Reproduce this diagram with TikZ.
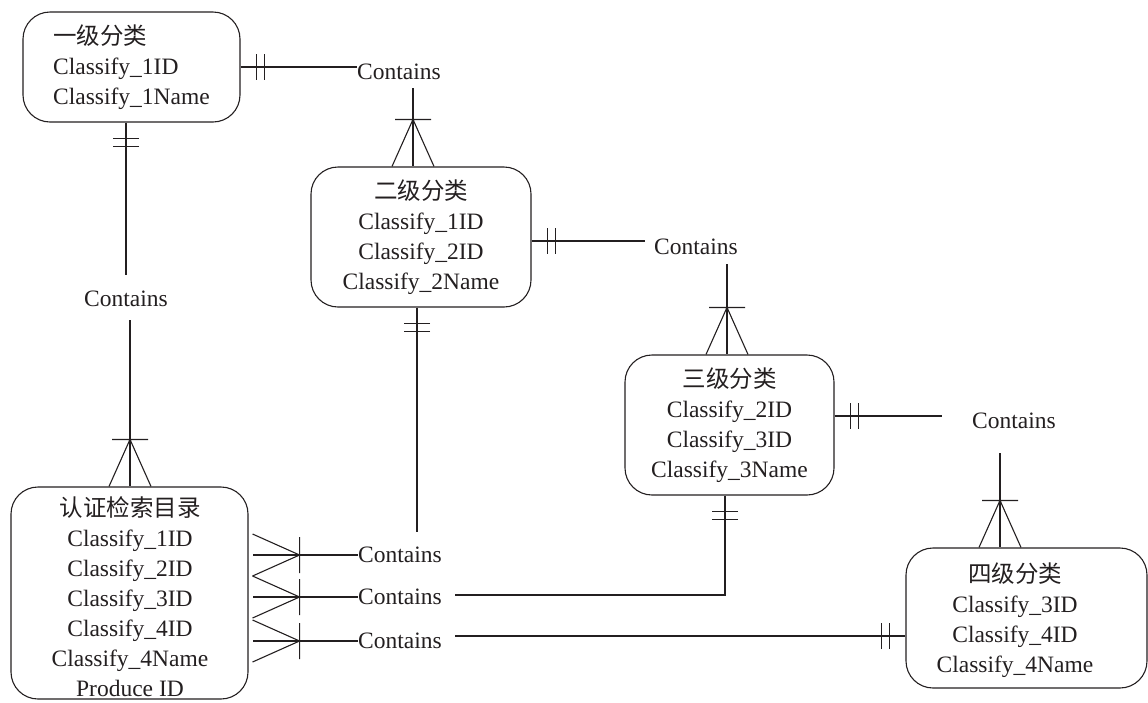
\documentclass[tikz,border=0pt]{standalone}
\usepackage{fontspec}
\setmainfont{Liberation Serif}
\newfontfamily\cjk{Noto Sans CJK SC}
\usetikzlibrary{calc}
\definecolor{ink}{HTML}{231F20}

\tikzset{
  link/.style={draw=ink, line width=1.1pt},
  ent/.style={draw=ink, line width=1.1pt, rounded corners=27pt, inner sep=0pt},
  txt/.style={text=ink, font=\fontsize{23.5}{30}\selectfont, inner sep=0pt, align=center},
  rel/.style={text=ink, font=\fontsize{23.5}{30}\selectfont, inner sep=0pt},
  % mandatory-one marker: two bars across the line
  pics/onebar/.style={code={
    \draw[link] (16,-13) -- (16,13) (24,-13) -- (24,13);}},
  % one-or-many marker: crow's foot with a bar
  pics/many/.style={code={
    \draw[link] (0,-21) -- (47,0) -- (0,21) (47,-18) -- (47,18);}},
}

\begin{document}
\begin{tikzpicture}[x=1pt, y=-1pt]
\useasboundingbox (0,0) rectangle (1148,702);
\clip (0,0) rectangle (1148,702);

% entities
\node[ent, txt, align=left, minimum width=217pt, minimum height=110pt] (e1) at (131.5,67)
  {{\cjk 一级分类}\\Classify\_1ID\\Classify\_1Name};
\node[ent, txt, minimum width=220pt, minimum height=140pt] (e2) at (421,237)
  {{\cjk 二级分类}\\Classify\_1ID\\Classify\_2ID\\Classify\_2Name};
\node[ent, txt, minimum width=209pt, minimum height=140pt] (e3) at (729.5,425)
  {{\cjk 三级分类}\\Classify\_2ID\\Classify\_3ID\\Classify\_3Name};
\node[ent, minimum width=241pt, minimum height=140pt] (e4) at (1026.5,618) {};
\node[txt] (e4t) at (1015,620)
  {{\cjk 四级分类}\\Classify\_3ID\\Classify\_4ID\\Classify\_4Name};
\node[ent, minimum width=237pt, minimum height=212pt] (e5) at (129.5,593) {};
\node[txt] (e5t) at (130,596.5)
  {{\cjk 认证检索目录}\\Classify\_1ID\\Classify\_2ID\\Classify\_3ID\\Classify\_4ID\\Classify\_4Name\\Produce ID};

% relationships
\node[rel] (c1) at (399,72) {Contains};
\node[rel] (c2) at (696,247) {Contains};
\node[rel] (c3) at (1014,421) {Contains};
\node[rel] (c4) at (126,299) {Contains};
\node[rel] (c5) at (400,555) {Contains};
\node[rel] (c6) at (400,597) {Contains};
\node[rel] (c7) at (400,641) {Contains};

% level 1 -> level 2
\draw[link] (e1.east) -- (e1.east -| c1.west);
\pic at (e1.east) {onebar};
\coordinate (c1s) at ([xshift=14pt,yshift=-8pt]c1.south);
\draw[link] (c1s) -- (c1s |- e2.north);
\pic[rotate=90] at (c1s |- e2.north) {many};

% level 2 -> level 3
\coordinate (e2r) at ([yshift=-4pt]e2.east);
\coordinate (c2w) at ([xshift=-9pt]c2.west);
\draw[link] (e2r) -- (e2r -| c2w);
\pic at (e2r) {onebar};
\coordinate (c2s) at ([xshift=31pt,yshift=-9pt]c2.south);
\draw[link] (c2s) -- (c2s |- e3.north);
\pic[rotate=90] at (c2s |- e3.north) {many};

% level 3 -> level 4
\coordinate (e3r) at ([yshift=9pt]e3.east);
\coordinate (c3w) at ([xshift=-30pt]c3.west);
\draw[link] (e3r) -- (e3r -| c3w);
\pic at (e3r) {onebar};
\coordinate (c3s) at ([xshift=-14pt,yshift=-24pt]c3.south);
\draw[link] (c3s) -- (c3s |- e4.north);
\pic[rotate=90] at (c3s |- e4.north) {many};

% level 1 -> catalogue
\coordinate (e1b) at ([xshift=-5.5pt]e1.south);
\coordinate (c4n) at ([yshift=16pt]c4.north);
\draw[link] (e1b) -- (e1b |- c4n);
\pic[rotate=-90] at (e1b) {onebar};
\coordinate (c4s) at ([xshift=4pt,yshift=-13pt]c4.south);
\draw[link] (c4s) -- (c4s |- e5.north);
\pic[rotate=90] at (c4s |- e5.north) {many};

% level 2 -> catalogue
\coordinate (e2b) at ([xshift=-4pt]e2.south);
\coordinate (c5n) at ([yshift=15pt]c5.north);
\draw[link] (e2b) -- (e2b |- c5n);
\pic[rotate=-90] at (e2b) {onebar};

% level 3 -> catalogue
\coordinate (e3b) at ([xshift=-4.5pt]e3.south);
\coordinate (c6e) at ([xshift=13pt,yshift=2pt]c6.east);
\draw[link] (e3b) |- (c6e);
\pic[rotate=-90] at (e3b) {onebar};

% level 4 -> catalogue
\coordinate (e4l) at ([yshift=-18pt]e4.west);
\coordinate (c7e) at ([xshift=13pt]c7.east);
\draw[link] (e4l) -- (e4l -| c7e);
\pic[rotate=180] at (e4l) {onebar};

% many side on the catalogue
\coordinate (e5r) at ([xshift=4pt]e5.east);
\draw[link] (c5.west) -- (c5.west -| e5r);
\pic at (c5.west -| e5r) {many};
\draw[link] (c6.west) -- (c6.west -| e5r);
\pic at (c6.west -| e5r) {many};
\draw[link] (c7.west) -- (c7.west -| e5r);
\pic at (c7.west -| e5r) {many};
\end{tikzpicture}
\end{document}
